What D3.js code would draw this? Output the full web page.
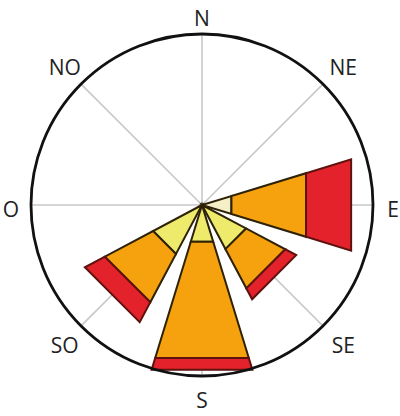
<!DOCTYPE html>
<html>
<head>
<meta charset="utf-8">
<script src="https://cdn.jsdelivr.net/npm/d3@7"></script>
<style>
  html, body { margin: 0; padding: 0; background: #ffffff; }
  svg { display: block; }
</style>
</head>
<body>
<svg id="chart" width="400" height="416"></svg>
<script>
// Directions (compass, Spanish labels)
const directions = ["N", "NE", "E", "SE", "S", "SO", "O", "NO"];
const angles = [0, 45, 90, 135, 180, 225, 270, 315];
// Speed classes (stacked from centre outwards)
const classes = ["calma", "débil", "moderado", "fuerte"];
// Frequency (%) per class for each direction
const calma    = [0, 0, 4.5, 0,   0,    0,   0, 0];
const debil    = [0, 0, 0,   7.3, 5.6,  8.1, 0, 0];
const moderado = [0, 0, 11.4, 6.5, 17.8, 8.0, 0, 0];
const fuerte   = [0, 0, 6.9, 1.8, 1.8,  3.3, 0, 0];
const series = [calma, debil, moderado, fuerte];
const rMaxValue = 25;

const colors = ["#f4efc6", "#eeea6c", "#f6a20e", "#e3222b"];
const strokes = ["#2e2206", "#2e2206", "#2e2206", "#5e120e"];

const svg = d3.select("#chart");
const cx = 202, cy = 205, R = 171;
const g = svg.append("g").attr("transform", `translate(${cx},${cy})`);

const r = d3.scaleLinear().domain([0, rMaxValue]).range([0, R]);
const toRad = d => d * Math.PI / 180;
const halfWidth = 17;

// spokes
g.selectAll("line.spoke").data(angles).join("line")
  .attr("class", "spoke")
  .attr("x1", 0).attr("y1", 0)
  .attr("x2", a => R * Math.sin(toRad(a)))
  .attr("y2", a => -R * Math.cos(toRad(a)))
  .attr("stroke", "#c8c8c8").attr("stroke-width", 1.6);

// wedges (straight-edged sectors)
const radial = d3.lineRadial()
  .angle(d => toRad(d[0]))
  .radius(d => d[1])
  .curve(d3.curveLinearClosed);

const bands = [];
directions.forEach((dir, i) => {
  let cum = 0;
  series.forEach((s, k) => {
    const v = s[i];
    if (v > 0) {
      bands.push({ dir, a: angles[i], r0: cum, r1: cum + v, k });
      cum += v;
    }
  });
});

g.selectAll("path.band").data(bands).join("path")
  .attr("class", "band")
  .attr("d", d => {
    const outer = [[d.a + halfWidth, r(d.r1)], [d.a - halfWidth, r(d.r1)]];
    if (d.r0 === 0) return radial([[d.a, 0], ...outer]);
    return radial([[d.a - halfWidth, r(d.r0)], [d.a + halfWidth, r(d.r0)], ...outer]);
  })
  .attr("fill", d => colors[d.k])
  .attr("stroke", d => strokes[d.k])
  .attr("stroke-width", 2)
  .attr("stroke-linejoin", "miter");

// outer circle
g.append("circle").attr("r", R)
  .attr("fill", "none").attr("stroke", "#111").attr("stroke-width", 2.8);

// labels
const isCardinal = i => angles[i] % 90 === 0;
g.selectAll("text.dir").data(directions).join("text")
  .attr("class", "dir")
  .attr("x", (d, i) => (isCardinal(i) ? 191 : 197) * Math.sin(toRad(angles[i])) + (isCardinal(i) ? 0 : 2))
  .attr("y", (d, i) => -(isCardinal(i) ? 191 : 197) * Math.cos(toRad(angles[i])) + (isCardinal(i) ? 4 : 1))
  .attr("text-anchor", "middle")
  .attr("dominant-baseline", "central")
  .attr("font-family", "'Open Sans', sans-serif")
  .attr("font-size", 21)
  .attr("fill", "#222")
  .text(d => d);
</script>
</body>
</html>
